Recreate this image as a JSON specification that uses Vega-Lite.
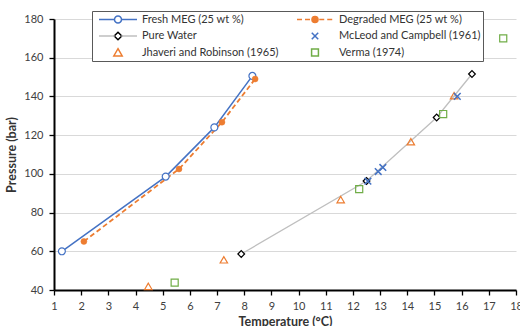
{
  "$schema": "https://vega.github.io/schema/vega-lite/v6.json",
  "width": 462,
  "height": 271,
  "autosize": {"type": "none"},
  "padding": {"left": 54, "top": 19, "right": 4, "bottom": 36},
  "background": "white",
  "config": {
    "font": "Lato",
    "view": {"stroke": null},
    "legend": {
      "orient": "none",
      "legendX": 38,
      "legendY": -8,
      "columns": 2,
      "clipHeight": 13,
      "rowPadding": 3.5,
      "padding": 2,
      "symbolSize": 1444,
      "symbolOffset": 4,
      "symbolStrokeWidth": 1.5,
      "labelOffset": 4,
      "labelFont": "Lato",
      "labelFontSize": 11,
      "labelColor": "#333333",
      "title": null
    }
  },
  "datasets": {
    "fresh": [{"T": 1.29, "P": 60}, {"T": 5.11, "P": 98.6}, {"T": 6.9, "P": 124}, {"T": 8.3, "P": 150.6}],
    "degraded": [{"T": 2.1, "P": 65.1}, {"T": 5.6, "P": 102.5}, {"T": 7.18, "P": 126.7}, {"T": 8.4, "P": 149}],
    "water": [{"T": 7.89, "P": 58.6}, {"T": 12.5, "P": 96.3}, {"T": 15.08, "P": 129.1}, {"T": 16.38, "P": 151.6}],
    "jhaveri": [{"T": 4.47, "P": 41.9}, {"T": 7.25, "P": 55.6}, {"T": 11.55, "P": 86.7}, {"T": 14.13, "P": 116.6}, {"T": 15.72, "P": 140.4}],
    "mcleod": [{"T": 12.55, "P": 96.2}, {"T": 12.93, "P": 101.2}, {"T": 13.1, "P": 103.3}, {"T": 15.84, "P": 140}],
    "verma": [{"T": 5.44, "P": 43.8}, {"T": 12.23, "P": 92.1}, {"T": 15.32, "P": 130.9}, {"T": 17.53, "P": 170}],
    "legendkeys": []
  },
  "layer": [
    {
      "data": {"name": "water"},
      "mark": {"type": "line", "color": "#BFBFBF", "strokeWidth": 1.3},
      "encoding": {
        "x": {
          "field": "T", "type": "quantitative",
          "scale": {"domain": [1, 18], "nice": false, "zero": false},
          "axis": {
            "title": "Temperature (°C)",
            "values": [1, 2, 3, 4, 5, 6, 7, 8, 9, 10, 11, 12, 13, 14, 15, 16, 17, 18],
            "format": "d",
            "tickCount": 40,
            "labelOverlap": false,
            "labelFlush": false,
            "grid": false,
            "domainColor": "black", "domainWidth": 2,
            "tickColor": "black", "tickWidth": 1.3, "tickSize": 5,
            "labelFont": "Lato", "labelFontSize": 11, "labelColor": "#404040", "labelPadding": 5,
            "titleFont": "Lato", "titleFontSize": 12.5, "titleFontWeight": "bold", "titleColor": "#333333", "titlePadding": 4,
            "encode": {"ticks": {"update": {"y": {"value": -5}}}}
          }
        },
        "y": {
          "field": "P", "type": "quantitative",
          "scale": {"domain": [40, 180], "nice": false, "zero": false},
          "axis": {
            "title": "Pressure (bar)",
            "values": [40, 60, 80, 100, 120, 140, 160, 180],
            "format": "d",
            "tickCount": 40,
            "labelOverlap": false,
            "labelFlush": false,
            "grid": true, "gridColor": "#D9D9D9", "gridWidth": 1,
            "domainColor": "black", "domainWidth": 2,
            "tickColor": "black", "tickWidth": 1.3, "tickSize": 5,
            "labelFont": "Lato", "labelFontSize": 11, "labelColor": "#404040", "labelPadding": 6,
            "titleFont": "Lato", "titleFontSize": 12.5, "titleFontWeight": "bold", "titleColor": "#333333", "titlePadding": 5,
            "encode": {"ticks": {"update": {"x": {"value": 5}}}}
          }
        }
      }
    },
    {
      "data": {"name": "fresh"},
      "mark": {"type": "line", "color": "#4472C4", "strokeWidth": 1.5},
      "encoding": {"x": {"field": "T", "type": "quantitative"}, "y": {"field": "P", "type": "quantitative"}}
    },
    {
      "data": {"name": "degraded"},
      "mark": {"type": "line", "color": "#ED7D31", "strokeWidth": 1.8, "strokeDash": [5, 3]},
      "encoding": {"x": {"field": "T", "type": "quantitative"}, "y": {"field": "P", "type": "quantitative"}}
    },
    {
      "data": {"name": "water"},
      "mark": {"type": "point", "shape": "diamond", "size": 45, "fill": "white", "stroke": "black", "strokeWidth": 1.2, "opacity": 1, "filled": true},
      "encoding": {"x": {"field": "T", "type": "quantitative"}, "y": {"field": "P", "type": "quantitative"}}
    },
    {
      "data": {"name": "fresh"},
      "mark": {"type": "point", "shape": "circle", "size": 48, "fill": "white", "stroke": "#4472C4", "strokeWidth": 1.2, "opacity": 1, "filled": true},
      "encoding": {"x": {"field": "T", "type": "quantitative"}, "y": {"field": "P", "type": "quantitative"}}
    },
    {
      "data": {"name": "degraded"},
      "mark": {"type": "point", "shape": "circle", "size": 36, "fill": "#ED7D31", "stroke": "#ED7D31", "strokeWidth": 0.5, "opacity": 1, "filled": true},
      "encoding": {"x": {"field": "T", "type": "quantitative"}, "y": {"field": "P", "type": "quantitative"}}
    },
    {
      "data": {"name": "jhaveri"},
      "mark": {"type": "point", "shape": "triangle-up", "size": 55, "fill": "transparent", "stroke": "#ED7D31", "strokeWidth": 1.2, "opacity": 1, "filled": true},
      "encoding": {"x": {"field": "T", "type": "quantitative"}, "y": {"field": "P", "type": "quantitative"}}
    },
    {
      "data": {"name": "verma"},
      "mark": {"type": "point", "shape": "square", "size": 50, "fill": "transparent", "stroke": "#70AD47", "strokeWidth": 1.2, "opacity": 1, "filled": true},
      "encoding": {"x": {"field": "T", "type": "quantitative"}, "y": {"field": "P", "type": "quantitative"}}
    },
    {
      "data": {"name": "mcleod"},
      "mark": {"type": "point", "shape": "M-1,-1L1,1M-1,1L1,-1", "size": 45, "fill": "transparent", "stroke": "#4472C4", "strokeWidth": 1.5, "opacity": 1, "filled": false},
      "encoding": {"x": {"field": "T", "type": "quantitative"}, "y": {"field": "P", "type": "quantitative"}}
    },
    {
      "data": {"name": "legendkeys"},
      "mark": {"type": "point", "size": 1444, "filled": true, "opacity": 1, "strokeWidth": 1.2},
      "encoding": {
        "shape": {
          "field": "series", "type": "nominal",
          "scale": {
            "domain": ["Fresh MEG (25 wt %)", "Pure Water", "Jhaveri and Robinson (1965)", "Degraded MEG (25 wt %)", "McLeod and Campbell (1961)", "Verma (1974)"],
            "range": [
              "M-0.185,0A0.185,0.185 0 1,0 0.185,0A0.185,0.185 0 1,0 -0.185,0Z",
              "M0,-0.2L0.2,0L0,0.2L-0.2,0Z",
              "M0,-0.2L0.22,0.18L-0.22,0.18Z",
              "M-0.16,0A0.16,0.16 0 1,0 0.16,0A0.16,0.16 0 1,0 -0.16,0Z",
              "M-0.17,-0.17L0.17,0.17M-0.17,0.17L0.17,-0.17",
              "M-0.18,-0.18L0.18,-0.18L0.18,0.18L-0.18,0.18Z"
            ]
          },
          "legend": {"title": null, "zindex": 1, "fillColor": "white", "strokeColor": "#595959", "columnPadding": 12}
        },
        "fill": {
          "field": "series", "type": "nominal",
          "scale": {
            "domain": ["Fresh MEG (25 wt %)", "Pure Water", "Jhaveri and Robinson (1965)", "Degraded MEG (25 wt %)", "McLeod and Campbell (1961)", "Verma (1974)"],
            "range": ["white", "white", "white", "#ED7D31", "transparent", "white"]
          },
          "legend": {"title": null}
        },
        "stroke": {
          "field": "series", "type": "nominal",
          "scale": {
            "domain": ["Fresh MEG (25 wt %)", "Pure Water", "Jhaveri and Robinson (1965)", "Degraded MEG (25 wt %)", "McLeod and Campbell (1961)", "Verma (1974)"],
            "range": ["#4472C4", "black", "#ED7D31", "#ED7D31", "#4472C4", "#70AD47"]
          },
          "legend": {"title": null}
        }
      }
    },
    {
      "data": {"name": "legendkeys"},
      "mark": {"type": "point", "shape": "M-1,0L-0.17,0M0.17,0L1,0", "size": 1444, "filled": false, "opacity": 1, "strokeWidth": 1.5},
      "encoding": {
        "color": {
          "field": "code", "type": "nominal",
          "scale": {"domain": ["a", "c", "e", "b", "d", "f"], "range": ["#4472C4", "#BFBFBF", "transparent", "#ED7D31", "transparent", "transparent"]},
          "legend": {
            "title": null, "zindex": 2, "symbolType": "M-1,0L-0.17,0M0.17,0L1,0",
            "columnPadding": 150,
            "labelExpr": "''"
          }
        },
        "strokeDash": {
          "field": "code", "type": "nominal",
          "scale": {"domain": ["a", "c", "e", "b", "d", "f"], "range": [[1, 0], [1, 0], [1, 0], [5, 3], [1, 0], [1, 0]]},
          "legend": {"title": null}
        }
      }
    }
  ]
}
